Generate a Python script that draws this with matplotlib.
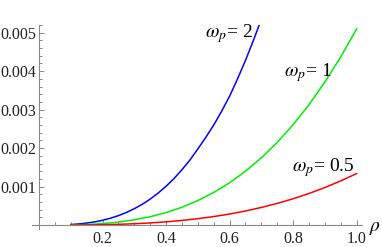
import matplotlib
matplotlib.use("Agg")
import matplotlib.pyplot as plt
from matplotlib.ticker import MultipleLocator, FixedLocator

plt.rcParams['font.family'] = ['Liberation Serif', 'DejaVu Serif']
plt.rcParams['mathtext.fontset'] = 'stix'

rho_a = [0.1, 0.125, 0.15, 0.175, 0.2, 0.225, 0.25, 0.275, 0.3, 0.325, 0.35, 0.375,
         0.4, 0.425, 0.45, 0.475, 0.5, 0.525, 0.55, 0.575, 0.6, 0.625, 0.65, 0.675, 0.7]
w2 = [0.0000158, 0.0000309, 0.0000533, 0.0000847, 0.000126, 0.000180, 0.000247,
      0.000329, 0.000427, 0.000542, 0.000677, 0.000833, 0.00101, 0.00121, 0.00144,
      0.00169, 0.00198, 0.00228, 0.00260, 0.00296, 0.00335, 0.00380, 0.00428,
      0.00480, 0.00535]

rho_b = [0.1, 0.15, 0.2, 0.25, 0.3, 0.35, 0.4, 0.45, 0.5, 0.55, 0.6, 0.65, 0.7,
         0.75, 0.8, 0.85, 0.9, 0.95, 1.0]
w1 = [0.0000051, 0.0000172, 0.0000408, 0.0000797, 0.000138, 0.000219, 0.000326,
      0.000465, 0.000638, 0.000849, 0.00110, 0.00140, 0.00175, 0.00215, 0.00261,
      0.00313, 0.00372, 0.00437, 0.0051]
w05 = [0.00000134, 0.0000045, 0.0000107, 0.0000209, 0.0000362, 0.0000575, 0.0000858,
       0.000122, 0.000168, 0.000223, 0.000289, 0.000368, 0.000460, 0.000565,
       0.000686, 0.000823, 0.000977, 0.00115, 0.00134]

xticks = [0.2, 0.4, 0.6, 0.8, 1.0]
xticklabels = ['0.2', '0.4', '0.6', '0.8', '1.0']
yticks = [0.001, 0.002, 0.003, 0.004, 0.005]
yticklabels = ['0.001', '0.002', '0.003', '0.004', '0.005']

fig = plt.figure(figsize=(3.82, 2.47), dpi=100)
ax = fig.add_axes([0.0838, 0.0729, 0.864, 0.826])

ax.plot(rho_a, w2, color='#0000ff', lw=1.1, clip_on=True)
ax.plot(rho_b, w1, color='#00ee00', lw=1.1)
ax.plot(rho_b, w05, color='#ff0000', lw=1.1)

ax.set_xlim(-0.022, 1.017)
ax.set_ylim(-0.0001, 0.0052)

for s in ['top', 'right']:
    ax.spines[s].set_visible(False)
ax.spines['left'].set_position(('data', 0))
ax.spines['bottom'].set_position(('data', 0))
for s in ['left', 'bottom']:
    ax.spines[s].set_color('#888888')
    ax.spines[s].set_linewidth(0.8)

ax.xaxis.set_major_locator(FixedLocator(xticks))
ax.set_xticklabels(xticklabels)
ax.xaxis.set_minor_locator(MultipleLocator(0.05))
ax.yaxis.set_major_locator(FixedLocator(yticks))
ax.set_yticklabels(yticklabels)
ax.yaxis.set_minor_locator(MultipleLocator(0.0002))

ax.tick_params(which='both', direction='in', color='#888888', width=0.7,
               labelsize=11.5, labelcolor='#222222')
ax.tick_params(which='major', length=3.5, pad=2)
ax.tick_params(which='minor', length=2)
ax.tick_params(axis='x', pad=4)

ax.text(0.673, 0.00488, r'$\omega_p$= 2', ha='right', va='baseline', fontsize=14)
ax.text(0.921, 0.00387, r'$\omega_p$= 1', ha='right', va='baseline', fontsize=14)
ax.text(0.994, 0.00139, r'$\omega_p$= 0.5', ha='right', va='baseline', fontsize=14)
ax.text(1.057, -0.00009, r'$\rho$', ha='center', va='center', fontsize=14, clip_on=False)

fig.savefig('out.png', dpi=100)
